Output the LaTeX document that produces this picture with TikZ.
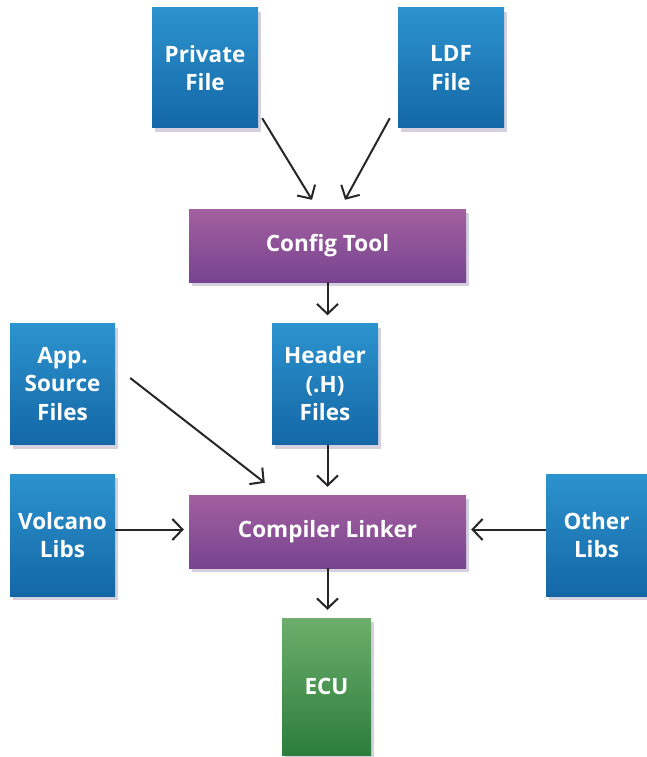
\documentclass[tikz,border=0pt]{standalone}
\usepackage{fontspec}
\setmainfont{Open Sans}
\usetikzlibrary{arrows.meta,shadows,calc}
\definecolor{bluetop}{HTML}{2C93CE}
\definecolor{bluebot}{HTML}{1467A6}
\definecolor{purtop}{HTML}{A3609F}
\definecolor{purbot}{HTML}{774390}
\definecolor{grtop}{HTML}{6DAE6C}
\definecolor{grbot}{HTML}{2C7D3C}
\definecolor{shad}{HTML}{B8B0C8}
\tikzset{
  box/.style={draw=none, text=white, font=\bfseries\fontsize{22.5}{28.5}\selectfont, align=center, inner sep=0pt,
    drop shadow={shadow xshift=3pt, shadow yshift=-4pt, fill=shad, opacity=0.6}},
  bluebox/.style={box, top color=bluetop, bottom color=bluebot},
  purbox/.style={box, top color=purtop, bottom color=purbot},
  grbox/.style={box, top color=grtop, bottom color=grbot},
  arr/.style={draw=black!85, line width=2pt, -{Straight Barb[length=10pt,width=21pt,line width=2pt]}}
}
\begin{document}
\begin{tikzpicture}[x=1pt,y=-1pt]
\useasboundingbox (0,0) rectangle (647,757);
\node[bluebox, minimum width=106pt, minimum height=120pt] (priv) at (205,68) {Private\\File};
\node[bluebox, minimum width=106pt, minimum height=120pt] (ldf) at (451,68) {LDF\\File};
\node[purbox, minimum width=277pt, minimum height=73pt] (cfg) at (327.5,245.5) {Config Tool};
\node[bluebox, minimum width=105pt, minimum height=121pt] (app) at (62.5,384) {App.\\Source\\Files};
\node[bluebox, minimum width=106pt, minimum height=121pt] (hdr) at (325,384) {Header\\(.H)\\Files};
\node[bluebox, minimum width=105pt, minimum height=122pt] (vol) at (62.5,535) {Volcano\\Libs};
\node[purbox, minimum width=277pt, minimum height=73pt] (cmp) at (327.5,531.5) {Compiler Linker};
\node[bluebox, minimum width=101pt, minimum height=122pt] (oth) at (596.5,535) {Other\\Libs};
\node[grbox, minimum width=89pt, minimum height=137pt] (ecu) at (326.5,686.5) {ECU};

\draw[arr] ($(priv.south east)+(4,-10)$) -- ($(cfg.north)+(-15.5,-9)$);
\draw[arr] ($(ldf.south west)+(-8,-10)$) -- ($(cfg.north)+(17.5,-9)$);
\draw[arr, shorten >=8pt] (cfg.south) -- (cfg.south |- hdr.north);
\draw[arr] ($(app.east)+(15,-6)$) -- ($(cmp.north west)+(76,-12)$);
\draw[arr, shorten >=8pt] (hdr.south -| cmp.north) -- (cmp.north);
\draw[arr, shorten >=5pt] ($(vol.east |- cmp)+(0,-2)$) -- ($(cmp.west)+(0,-2)$);
\draw[arr, shorten >=5pt] ($(oth.west |- cmp)+(0,-2)$) -- ($(cmp.east)+(0,-2)$);
\draw[arr, shorten >=8pt] (cmp.south) -- (cmp.south |- ecu.north);
\end{tikzpicture}
\end{document}
